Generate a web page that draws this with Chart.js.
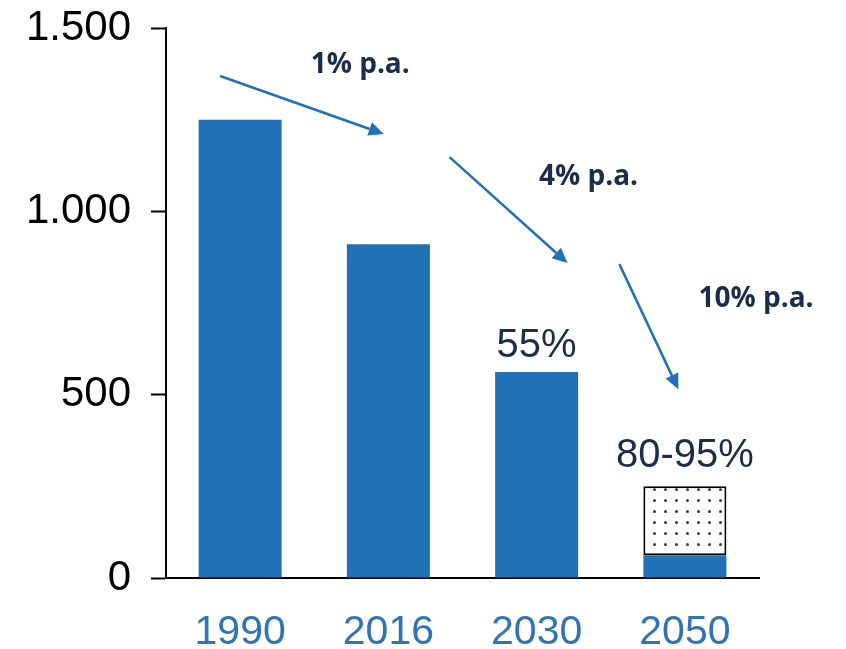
<!DOCTYPE html>
<html>
<head>
<meta charset="utf-8">
<script src="https://cdn.jsdelivr.net/npm/chart.js@4/dist/chart.umd.min.js"></script>
<style>
  body { margin: 0; background: #fff; }
  canvas { display: block; }
</style>
</head>
<body>
<canvas id="emisionesChart" width="846" height="649"></canvas>
<script>
// datos
var years = ["1990", "2016", "2030", "2050"];
var emissions = [1250, 910, 562, 62];          // barras azules
var targetRange = [null, null, null, [62, 250]]; // caja punteada 2050 (80-95%)
var barLabels = ["", "", "55%", "80-95%"];
var yTicks = [0, 500, 1000, 1500];
var yTickLabels = ["0", "500", "1.000", "1.500"];

// flechas de tasa anual (x = indice de categoria, y = valor del eje)
var rateLabels = ["1% p.a.", "4% p.a.", "10% p.a."];
var rateLabelX = [0.81, 2.35, 3.48];
var rateLabelY = [1377, 1072, 739];
var arrowFromX = [-0.135, 1.413, 2.558];
var arrowFromY = [1369, 1148, 856];
var arrowToX = [0.969, 2.208, 2.956];
var arrowToY = [1211, 859, 515];

var BLUE = "#2271b6";
var NAVY = "#1c2d4b";
var FONT = "'Liberation Sans', Arial, sans-serif";

// relleno punteado
var tile = document.createElement("canvas");
tile.width = 11;
tile.height = 11;
var tctx = tile.getContext("2d");
tctx.fillStyle = "#ffffff";
tctx.fillRect(0, 0, 11, 11);
tctx.fillStyle = "#3a3a3a";
tctx.beginPath();
tctx.arc(5.5, 5.5, 1.5, 0, Math.PI * 2);
tctx.fill();

var ctx = document.getElementById("emisionesChart").getContext("2d");
var dotPattern = ctx.createPattern(tile, "repeat");

var annotations = {
  id: "annotations",
  afterDatasetsDraw: function (chart) {
    var c = chart.ctx;
    var xs = chart.scales.x;
    var ys = chart.scales.y;
    c.save();

    // etiquetas sobre las barras
    c.fillStyle = NAVY;
    c.font = "40px " + FONT;
    c.textAlign = "center";
    c.textBaseline = "alphabetic";
    barLabels.forEach(function (txt, i) {
      if (!txt) return;
      var top = emissions[i];
      if (targetRange[i]) top = Math.max(top, targetRange[i][1]);
      var gap = targetRange[i] ? 19 : 15;
      c.fillText(txt, xs.getPixelForValue(i), ys.getPixelForValue(top) - gap);
    });

    // flechas
    c.strokeStyle = BLUE;
    c.fillStyle = BLUE;
    c.lineWidth = 2.5;
    for (var k = 0; k < arrowFromX.length; k++) {
      var x1 = xs.getPixelForValue(arrowFromX[k]);
      var y1 = ys.getPixelForValue(arrowFromY[k]);
      var x2 = xs.getPixelForValue(arrowToX[k]);
      var y2 = ys.getPixelForValue(arrowToY[k]);
      var ang = Math.atan2(y2 - y1, x2 - x1);
      var head = 15;
      var bx = x2 - head * Math.cos(ang);
      var by = y2 - head * Math.sin(ang);
      c.beginPath();
      c.moveTo(x1, y1);
      c.lineTo(bx, by);
      c.stroke();
      c.beginPath();
      c.moveTo(x2, y2);
      c.lineTo(bx + 7 * Math.sin(ang), by - 7 * Math.cos(ang));
      c.lineTo(bx - 7 * Math.sin(ang), by + 7 * Math.cos(ang));
      c.closePath();
      c.fill();
    }

    // tasas
    c.fillStyle = NAVY;
    c.font = "bold 28px 'Open Sans', sans-serif";
    for (var j = 0; j < rateLabels.length; j++) {
      c.fillText(rateLabels[j], xs.getPixelForValue(rateLabelX[j]), ys.getPixelForValue(rateLabelY[j]));
    }
    c.restore();
  },
};

var myChart = new Chart(ctx, {
  type: "bar",
  data: {
    labels: years,
    datasets: [
      {
        data: emissions,
        backgroundColor: BLUE,
        barPercentage: 0.56,
        categoryPercentage: 1,
      },
      {
        data: targetRange,
        backgroundColor: dotPattern,
        borderColor: "#000000",
        borderWidth: 2,
        borderSkipped: false,
        barPercentage: 0.56,
        categoryPercentage: 1,
      },
    ],
  },
  options: {
    responsive: false,
    animation: false,
    layout: {
      padding: { top: 28, right: 87, bottom: 0, left: 0 },
    },
    scales: {
      x: {
        stacked: true,
        grid: { display: false },
        border: { color: "#000000", width: 2 },
        ticks: {
          color: "#2f75b5",
          padding: 22,
          font: { size: 41, family: FONT },
        },
        afterFit: function (scale) {
          scale.height = 71;
        },
      },
      y: {
        min: 0,
        max: 1500,
        afterBuildTicks: function (scale) {
          scale.ticks = yTicks.map(function (v) { return { value: v }; });
        },
        ticks: {
          color: "#000000",
          padding: 20,
          font: { size: 42, family: FONT },
          callback: function (value) {
            return yTickLabels[yTicks.indexOf(value)];
          },
        },
        grid: {
          drawOnChartArea: false,
          tickLength: 15,
          tickColor: "#000000",
          tickWidth: 2,
        },
        border: { color: "#000000", width: 2 },
        afterFit: function (scale) {
          scale.width = 166;
          scale.paddingTop = 0;
          scale.paddingBottom = 0;
        },
      },
    },
    plugins: {
      legend: { display: false },
      tooltip: { enabled: false },
    },
  },
  plugins: [annotations],
});
</script>
</body>
</html>
